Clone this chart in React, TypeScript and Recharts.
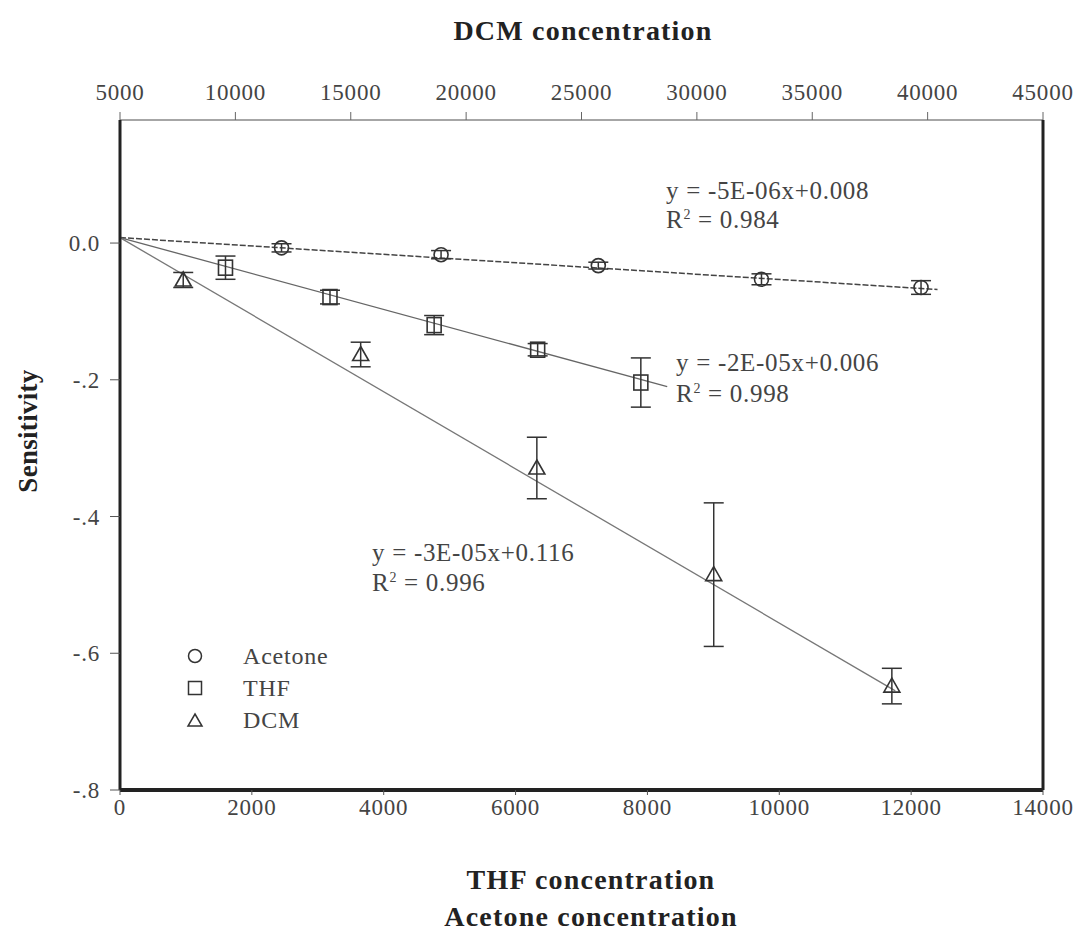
import React from "react";
import {
  ComposedChart,
  Scatter,
  ErrorBar,
  XAxis,
  YAxis,
  ReferenceLine,
} from "recharts";

// measured points (bottom axis: acetone, THF; top axis: DCM)
const acetoneX = [2450, 4870, 7255, 9730, 12150];
const acetoneY = [-0.007, -0.017, -0.033, -0.053, -0.065];
const acetoneErr = [0.006, 0.006, 0.005, 0.008, 0.01];

const thfX = [1600, 3185, 4765, 6335, 7900];
const thfY = [-0.036, -0.079, -0.12, -0.156, -0.204];
const thfErr = [0.017, 0.01, 0.014, 0.009, 0.036];

const dcmX = [7740, 15430, 23065, 30730, 38450];
const dcmY = [-0.054, -0.163, -0.329, -0.485, -0.648];
const dcmErr = [0.011, 0.018, 0.045, 0.105, 0.026];

// linear fit end points
const acetoneFitX = [0, 12400];
const acetoneFitY = [0.008, -0.068];
const thfFitX = [0, 8300];
const thfFitY = [0.008, -0.21];
const dcmFitX = [5000, 38600];
const dcmFitY = [0.008, -0.655];

const bottomTicks = [0, 2000, 4000, 6000, 8000, 10000, 12000, 14000];
const topTicks = [5000, 10000, 15000, 20000, 25000, 30000, 35000, 40000, 45000];
const yTicks = [-0.8, -0.6, -0.4, -0.2, 0];

const legendNames = ["Acetone", "THF", "DCM"];

const toRows = (xs: number[], ys: number[], errs: number[]) =>
  xs.map((x, i) => ({ x, y: ys[i], err: errs[i] }));

const toSegment = (xs: number[], ys: number[]) =>
  xs.map((x, i) => ({ x, y: ys[i] })) as any;

const INK = "#333";
const FONT = "'Liberation Serif', 'Times New Roman', serif";

const CircleMark = (p: any) => (
  <circle cx={p.cx} cy={p.cy} r={7} fill="none" stroke={INK} strokeWidth={1.6} />
);
const SquareMark = (p: any) => (
  <rect x={p.cx - 7} y={p.cy - 7.5} width={14} height={15} fill="none" stroke={INK} strokeWidth={1.6} />
);
const TriangleMark = (p: any) => (
  <path
    d={`M${p.cx},${p.cy - 8} L${p.cx + 8},${p.cy + 6} L${p.cx - 8},${p.cy + 6} Z`}
    fill="none"
    stroke={INK}
    strokeWidth={1.6}
  />
);

const fmtY = (v: number) => (v === 0 ? "0.0" : v.toFixed(1).replace("0.", "."));

const tickStyle = { fontFamily: FONT, fontSize: 23, fill: "#444", letterSpacing: 0.8 };

const textStyle: React.CSSProperties = {
  position: "absolute",
  fontFamily: FONT,
  color: "#444",
  whiteSpace: "nowrap",
  lineHeight: 1,
};

const titleStyle: React.CSSProperties = {
  ...textStyle,
  transform: "translate(-50%,-50%)",
  fontSize: 28,
  fontWeight: 700,
  letterSpacing: 1.2,
  color: "#222",
};

const eqStyle: React.CSSProperties = { ...textStyle, fontSize: 25, letterSpacing: 0.7 };

export default function App() {
  const acetone = toRows(acetoneX, acetoneY, acetoneErr);
  const thf = toRows(thfX, thfY, thfErr);
  const dcm = toRows(dcmX, dcmY, dcmErr);

  return (
    <div style={{ position: "absolute", left: 0, top: 0, width: 1078, height: 936, background: "#fff" }}>
      <ComposedChart
        width={1078}
        height={936}
        margin={{ top: 60, right: 34, bottom: 86, left: 60 }}
      >
        <XAxis
          xAxisId="bottom"
          dataKey="x"
          type="number"
          orientation="bottom"
          domain={[0, 14000]}
          ticks={bottomTicks}
          height={60}
          axisLine={{ stroke: "#222", strokeWidth: 4 }}
          tickLine={{ stroke: "#555" }}
          tickSize={5}
          tickMargin={4}
          tick={tickStyle}
        />
        <XAxis
          xAxisId="top"
          dataKey="x"
          type="number"
          orientation="top"
          domain={[5000, 45000]}
          ticks={topTicks}
          height={60}
          axisLine={{ stroke: "#888", strokeWidth: 1.5 }}
          tickLine={{ stroke: "#666" }}
          tickSize={8}
          tickMargin={12}
          tick={tickStyle}
        />
        <YAxis
          yAxisId="left"
          dataKey="y"
          type="number"
          domain={[-0.8, 0.18]}
          ticks={yTicks}
          width={60}
          axisLine={{ stroke: "#222", strokeWidth: 3 }}
          tickLine={{ stroke: "#555" }}
          tickSize={10}
          tickMargin={10}
          tickFormatter={fmtY}
          tick={tickStyle}
        />
        <YAxis
          yAxisId="right"
          orientation="right"
          type="number"
          domain={[-0.8, 0.18]}
          width={1}
          tick={false}
          tickLine={false}
          axisLine={{ stroke: "#222", strokeWidth: 3 }}
        />

        <ReferenceLine
          xAxisId="bottom"
          yAxisId="left"
          segment={toSegment(acetoneFitX, acetoneFitY)}
          stroke="#444"
          strokeWidth={1.5}
          strokeDasharray="6 2"
        />
        <ReferenceLine
          xAxisId="bottom"
          yAxisId="left"
          segment={toSegment(thfFitX, thfFitY)}
          stroke="#666"
          strokeWidth={1.3}
        />
        <ReferenceLine
          xAxisId="top"
          yAxisId="left"
          segment={toSegment(dcmFitX, dcmFitY)}
          stroke="#777"
          strokeWidth={1.3}
        />

        <Scatter
          name="Acetone"
          data={acetone}
          xAxisId="bottom"
          yAxisId="left"
          shape={CircleMark}
          isAnimationActive={false}
        >
          <ErrorBar dataKey="err" direction="y" width={10} stroke={INK} strokeWidth={1.5} />
        </Scatter>
        <Scatter
          name="THF"
          data={thf}
          xAxisId="bottom"
          yAxisId="left"
          shape={SquareMark}
          isAnimationActive={false}
        >
          <ErrorBar dataKey="err" direction="y" width={10} stroke={INK} strokeWidth={1.5} />
        </Scatter>
        <Scatter
          name="DCM"
          data={dcm}
          xAxisId="top"
          yAxisId="left"
          shape={TriangleMark}
          isAnimationActive={false}
        >
          <ErrorBar dataKey="err" direction="y" width={10} stroke={INK} strokeWidth={1.5} />
        </Scatter>
      </ComposedChart>

      {/* axis titles */}
      <div style={{ ...titleStyle, left: 583, top: 31 }}>DCM concentration</div>
      <div style={{ ...titleStyle, left: 591, top: 880 }}>THF concentration</div>
      <div style={{ ...titleStyle, left: 591, top: 917 }}>Acetone concentration</div>
      <div style={{ ...titleStyle, left: 28, top: 431, transform: "translate(-50%,-50%) rotate(-90deg)", letterSpacing: 0.3, fontSize: 27 }}>
        Sensitivity
      </div>

      {/* fit equations */}
      <div style={{ ...eqStyle, left: 666, top: 178 }}>y = -5E-06x+0.008</div>
      <div style={{ ...eqStyle, left: 666, top: 207 }}>
        R<sup style={{ fontSize: 14 }}>2</sup> = 0.984
      </div>
      <div style={{ ...eqStyle, left: 676, top: 350 }}>y = -2E-05x+0.006</div>
      <div style={{ ...eqStyle, left: 676, top: 381 }}>
        R<sup style={{ fontSize: 14 }}>2</sup> = 0.998
      </div>
      <div style={{ ...eqStyle, left: 372, top: 540 }}>y = -3E-05x+0.116</div>
      <div style={{ ...eqStyle, left: 372, top: 570 }}>
        R<sup style={{ fontSize: 14 }}>2</sup> = 0.996
      </div>

      {/* legend */}
      {legendNames.map((name, i) => (
        <div
          key={name}
          style={{ ...textStyle, left: 186, top: 644 + i * 32, fontSize: 24, letterSpacing: 0.8, display: "flex", alignItems: "center" }}
        >
          <svg width={18} height={18} style={{ marginRight: 39 }}>
            {i === 0 && <circle cx={9} cy={9} r={6.5} fill="none" stroke={INK} strokeWidth={1.5} />}
            {i === 1 && <rect x={2.5} y={2.5} width={13} height={13} fill="none" stroke={INK} strokeWidth={1.5} />}
            {i === 2 && <path d="M9,3 L16,15 L2,15 Z" fill="none" stroke={INK} strokeWidth={1.5} />}
          </svg>
          {name}
        </div>
      ))}
    </div>
  );
}
